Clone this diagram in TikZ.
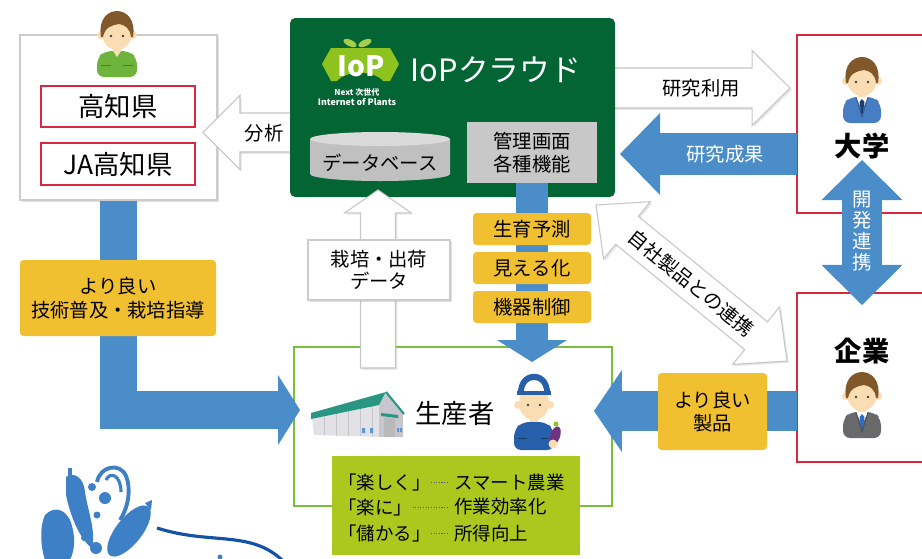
\documentclass[tikz,border=0pt]{standalone}
\usepackage{fontspec}
\setmainfont{Noto Sans CJK JP}
\usetikzlibrary{arrows.meta,fit,shadows}

\definecolor{cloudgreen}{RGB}{4,101,52}
\definecolor{flowblue}{RGB}{74,141,201}
\definecolor{tagyellow}{RGB}{241,192,48}
\definecolor{framered}{RGB}{214,40,62}
\definecolor{farmgreen}{RGB}{122,190,62}
\definecolor{limegreen}{RGB}{172,200,30}
\definecolor{panelgray}{RGB}{200,200,200}
\definecolor{dbgray}{RGB}{192,192,192}
\definecolor{dbtop}{RGB}{218,218,218}
\definecolor{leafgreen}{RGB}{141,194,31}
\definecolor{skin}{RGB}{251,221,180}
\definecolor{hairbrown}{RGB}{128,88,42}
\definecolor{shirtgreen}{RGB}{110,180,60}
\definecolor{suitblue}{RGB}{70,125,195}
\definecolor{suitgray}{RGB}{105,105,108}
\definecolor{navy}{RGB}{30,60,110}
\definecolor{tieblue}{RGB}{40,110,200}
\definecolor{capblue}{RGB}{40,95,170}
\definecolor{eggplant}{RGB}{110,50,130}
\definecolor{roofteal}{RGB}{40,150,130}
\definecolor{barnwall}{RGB}{226,226,230}
\definecolor{barngable}{RGB}{198,198,204}
\definecolor{winblue}{RGB}{90,150,215}
\definecolor{logoblue}{RGB}{62,128,197}
\definecolor{curveblue}{RGB}{20,82,165}

% outlined block arrow between two named points; sizes in px
\newcommand\wideArrow[6]{%
  \pgfpointdiff{\pgfpointanchor{#2}{center}}{\pgfpointanchor{#3}{center}}%
  \pgfgetlastxy\wax\way
  \pgfmathsetmacro\waang{atan2(\way,\wax)}%
  \pgfmathsetmacro\walen{veclen(\wax,\way)/0.569055}%
  \pgfmathsetmacro\wabase{\walen-#6}%
  \begin{scope}[shift={(#2)},rotate=\waang,x=0.02cm,y=0.02cm]
    \filldraw[#1] (0,-#4) -- (\wabase,-#4) -- (\wabase,-#5) -- (\walen,0)
      -- (\wabase,#5) -- (\wabase,#4) -- (0,#4) -- cycle;
  \end{scope}}
% same, with a head at both ends
\newcommand\wideDArrow[6]{%
  \pgfpointdiff{\pgfpointanchor{#2}{center}}{\pgfpointanchor{#3}{center}}%
  \pgfgetlastxy\wax\way
  \pgfmathsetmacro\waang{atan2(\way,\wax)}%
  \pgfmathsetmacro\walen{veclen(\wax,\way)/0.569055}%
  \pgfmathsetmacro\wabase{\walen-#6}%
  \begin{scope}[shift={(#2)},rotate=\waang,x=0.02cm,y=0.02cm]
    \filldraw[#1] (0,0) -- (#6,-#5) -- (#6,-#4) -- (\wabase,-#4) -- (\wabase,-#5)
      -- (\walen,0) -- (\wabase,#5) -- (\wabase,#4) -- (#6,#4) -- (#6,#5) -- cycle;
  \end{scope}}

\tikzset{
  panel/.style={fit={#1}, inner sep=0pt},
  whitebox/.style={draw=gray!40, fill=white, line width=.6pt,
    drop shadow={opacity=.25, shadow xshift=1pt, shadow yshift=-1pt}},
  redbox/.style={draw=framered, line width=.8pt, fill=white},
  yellowtag/.style={fill=tagyellow, rounded corners=2pt},
  warrow/.style={fill=white, draw=gray!45, line width=.6pt,
    drop shadow={opacity=.2, shadow xshift=1pt, shadow yshift=-1pt}},
  bluearrow/.style n args={3}{draw=flowblue, line width=#1,
    -{Triangle[length=#3, width=#2, line width=0pt]}},
  bluedouble/.style n args={3}{draw=flowblue, line width=#1,
    {Triangle[length=#3, width=#2, line width=0pt]}-{Triangle[length=#3, width=#2, line width=0pt]}},
  bigtxt/.style={font=\fontsize{15}{18}\selectfont},
  boldtxt/.style={font=\fontsize{15.5}{18}\selectfont\bfseries},
  midtxt/.style={font=\fontsize{11}{13}\selectfont, align=center},
  smalltxt/.style={font=\fontsize{10.5}{13}\selectfont},
  pics/casual/.style={code={
    \fill[skin] (-4,12) rectangle (4,24);
    \fill[#1, rounded corners=4pt] (-20,46) -- (-20,27) -- (-12,20) -- (12,20) -- (20,27) -- (20,46) -- cycle;
    \fill[skin] (-4,20) -- (0,26) -- (4,20) -- cycle;
    \draw[#1!70!black, line width=.4pt] (-16,34) -- (-6,34) (6,34) -- (16,34);
    \fill[skin] (-16,4) circle (4) (16,4) circle (4);
    \fill[skin] (0,2) ellipse [x radius=15, y radius=17];
    \fill[hairbrown] (-16,6) .. controls (-19,-12) and (-9,-20) .. (0,-20) .. controls (9,-20) and (19,-12) .. (16,6)
      -- (14,6) .. controls (13,-3) and (8,-6) .. (2,-7) .. controls (-5,-6) and (-12,-4) .. (-14,6) -- cycle;
    \fill[black!75] (-6,5) circle (1.4) (6,5) circle (1.4);
  }},
  pics/suited/.style 2 args={code={
    \fill[skin] (-4,12) rectangle (4,24);
    \fill[#1, rounded corners=4pt] (-19,46) -- (-19,27) -- (-12,20) -- (12,20) -- (19,27) -- (19,46) -- cycle;
    \fill[white] (-6,20) -- (0,33) -- (6,20) -- cycle;
    \fill[#2] (0,22) -- (-2.5,25) -- (0,40) -- (2.5,25) -- cycle;
    \draw[#1!70!black, line width=.4pt] (-6,20) -- (0,40) -- (6,20);
    \fill[skin] (-16,4) circle (4) (16,4) circle (4);
    \fill[skin] (0,2) ellipse [x radius=15, y radius=17];
    \fill[hairbrown] (-16,6) .. controls (-19,-12) and (-9,-20) .. (0,-20) .. controls (9,-20) and (19,-12) .. (16,6)
      -- (14,6) .. controls (13,-3) and (8,-6) .. (2,-7) .. controls (-5,-6) and (-12,-4) .. (-14,6) -- cycle;
    \fill[black!75] (-6,5) circle (1.4) (6,5) circle (1.4);
  }},
  pics/farmer/.style={code={
    \fill[skin] (-4,14) rectangle (4,26);
    \fill[capblue, rounded corners=4pt] (-20,50) -- (-20,30) -- (-12,22) -- (12,22) -- (20,30) -- (20,50) -- cycle;
    \draw[capblue!60!black, line width=.4pt] (-16,38) -- (-7,38) (7,38) -- (14,38);
    \fill[skin] (-16,5) circle (4) (16,5) circle (4);
    \fill[skin] (0,3) ellipse [x radius=15, y radius=17];
    \fill[capblue] (-16,-6) .. controls (-17,-33) and (17,-33) .. (16,-6) -- cycle;
    \fill[white] (-10,-8) .. controls (-10,-24) and (10,-24) .. (10,-8) -- cycle;
    \fill[capblue] (-17,-9) rectangle (17,-5);
    \fill[black!75] (-6,5) circle (1.4) (6,5) circle (1.4);
    \fill[eggplant, rotate around={70:(21,36)}] (21,36) ellipse [x radius=10, y radius=5];
    \fill[leafgreen] (22,24) circle (2.5);
    \fill[skin] (19,44) circle (4.5);
  }},
}

\begin{document}
\begin{tikzpicture}[x=0.02cm, y=-0.02cm]
\useasboundingbox (0,0) rectangle (922,558);
\clip (0,0) rectangle (922,558);

%Kochi prefecture / JA box
\node[whitebox, panel={(20,35) (217,200)}] (pref) {};
\node[redbox, panel={(41,86) (195,127)}] (kochi) {};
\node[bigtxt] (kochitext) at (kochi) {高知県};
\node[redbox, panel={(41,143) (195,185)}] (jakochi) {};
\node[bigtxt] (jakochitext) at (jakochi) {JA高知県};
\pic at (117,31) {casual=shirtgreen};

%analysis arrow (tail hidden under the cloud panel)
\coordinate (bunseki-s) at (300,132.5);
\coordinate (bunseki-e) at (203,132.5);
\wideArrow{warrow}{bunseki-s}{bunseki-e}{19.5}{37}{37}
\node[midtxt] (bunseki) at (264,133) {分析};

%research use arrow
\coordinate (riyou-s) at (600,88);
\coordinate (riyou-e) at (790,88);
\wideArrow{warrow}{riyou-s}{riyou-e}{20}{37.5}{38}
\node[midtxt] (riyou) at (701,88) {研究利用};

%IoP cloud panel
\node[fill=cloudgreen, rounded corners=3pt, panel={(290,18) (615,197)}] (cloud) {};

%logo
\fill[leafgreen] (322,64) -- (331,48) -- (390,48) -- (399,64) -- (390,81) -- (383,81)
  .. controls (374,70) and (346,70) .. (337,81) -- (331,81) -- cycle;
\fill[leafgreen!80!white, rotate around={-25:(350,43)}] (350,43) ellipse [x radius=7, y radius=3.2];
\fill[leafgreen!80!white, rotate around={25:(365,43)}] (365,43) ellipse [x radius=7, y radius=3.2];
\node[white, font=\fontsize{16}{16}\selectfont\bfseries] (ioplogo) at (361,66) {IoP};
\node[white, font=\fontsize{4.6}{5}\selectfont\bfseries] (nextgen) at (357,92) {Next 次世代};
\node[white, font=\fontsize{5}{6}\selectfont\bfseries] (iopfull) at (357,102) {Internet of Plants};
\node[white, font=\fontsize{17.5}{20}\selectfont] (cloudname) at (496,70) {IoPクラウド};

%database and management panel
\fill[dbgray] (310,139) -- (310,174) arc[start angle=180, end angle=0, x radius=70, y radius=7] -- (450,139) -- cycle;
\fill[dbtop] (380,139) ellipse [x radius=70, y radius=7];
\node[midtxt] (db) at (380,163) {データベース};
\node[fill=panelgray, panel={(467,122) (597,183)}] (mgmt) {};
\node[midtxt] (mgmttext) at (mgmt) {管理画面\\各種機能};

%university and company
\node[redbox, panel={(797,35) (940,213)}] (univ) {};
\pic at (862,77) {suited={suitblue}{navy}};
\node[boldtxt] (univname) at (862,146) {大学};

\node[redbox, panel={(797,293) (940,462)}] (corp) {};
\node[boldtxt] (corpname) at (862,351) {企業};
\pic at (862,392) {suited={suitgray}{tieblue}};

%producers
\node[draw=farmgreen, line width=1.3pt, panel={(294,347) (612,506)}] (farm) {};

%barn
\fill[barnwall] (312,418) -- (379,405) -- (379,437) -- (314,435) -- cycle;
\foreach \x in {324,336,348,360,372}
  \draw[gray!45, line width=.3pt] (\x,{418-(\x-312)*13/67}) -- (\x,{435+(\x-314)*2/65});
\fill[barngable] (379,405) -- (386,393) -- (403,414) -- (403,437) -- (379,437) -- cycle;
\fill[roofteal] (311,419) -- (311,413) -- (386,392) -- (379,405) -- cycle;
\draw[roofteal, line width=1.2pt] (386,392) -- (404,414);
\fill[roofteal] (381,413) -- (398,415) -- (398,418) -- (381,416) -- cycle;
\fill[gray!55] (384,418) rectangle (395,437);
\fill[winblue] (362,428) rectangle (365,433) (370,428) rectangle (373,433)
  (397,428) rectangle (399,432) (400,428) rectangle (402,432);

\node[bigtxt] (producer) at (455,413) {生産者};
\pic at (534,400) {farmer};

%merit list
\node[fill=limegreen, panel={(332,456) (580,555)}] (merit) {};
\node[smalltxt, anchor=west, inner sep=0pt] (fun) at (338,482) {「楽しく」};
\node[smalltxt, anchor=west, inner sep=0pt] (smart) at (454,482) {スマート農業};
\node[smalltxt, anchor=west, inner sep=0pt] (easy) at (338,507) {「楽に」};
\node[smalltxt, anchor=west, inner sep=0pt] (effic) at (454,507) {作業効率化};
\node[smalltxt, anchor=west, inner sep=0pt] (gain) at (338,533) {「儲かる」};
\node[smalltxt, anchor=west, inner sep=0pt] (income) at (454,533) {所得向上};
\foreach \a/\b in {fun/smart, easy/effic, gain/income}
  \draw[gray!70!black, line width=.4pt, dash pattern=on .6pt off .9pt, shorten >=4pt] (\a.east) -- (\b.west);

%cultivation data arrow
\coordinate (data-s) at (378,368);
\coordinate (data-e) at (378,190);
\wideArrow{warrow}{data-s}{data-e}{17.5}{33.5}{23}
\node[whitebox, panel={(308,240) (450,300)}] (datalabel) {};
\node[midtxt] (datatext) at (datalabel) {栽培・出荷\\データ};

%control arrow with its three tags
\coordinate (ctrl-e) at (532,362);
\draw[bluearrow={18.2pt}{39.8pt}{12.5pt}] (mgmt.south) -- (ctrl-e);
\node[yellowtag, panel={(473,213) (591,245)}] (predict) {};
\node[midtxt] at (predict) {生育予測};
\node[yellowtag, panel={(473,252) (591,284)}] (visual) {};
\node[midtxt] at (visual) {見える化};
\node[yellowtag, panel={(473,291) (591,323)}] (control) {};
\node[midtxt] at (control) {機器制御};

%guidance arrow
\coordinate (guide-e) at (300,410);
\draw[bluearrow={21.6pt}{39.8pt}{12.5pt}, line join=miter] (pref.south) |- (guide-e);
\node[yellowtag, panel={(20,260) (216,336)}] (guidetag) {};
\node[midtxt, font=\fontsize{11}{14}\selectfont] (guidetext) at (guidetag) {より良い\\技術普及・栽培指導};

%research results arrow
\coordinate (seika-s) at (797,154);
\coordinate (seika-e) at (620,154);
\draw[bluearrow={23.9pt}{46.7pt}{22.8pt}] (seika-s) -- (seika-e);
\node[midtxt, white] (seika) at (725,154) {研究成果};

%product arrow
\coordinate (prod-s) at (797,411);
\coordinate (prod-e) at (594,411);
\draw[bluearrow={22.8pt}{46.7pt}{15.9pt}] (prod-s) -- (prod-e);
\node[yellowtag, panel={(658,373) (767,450)}] (prodtag) {};
\node[midtxt] (prodtext) at (prodtag) {より良い\\製品};

%joint development
\coordinate (dev-s) at (862,160);
\coordinate (dev-e) at (862,305);
\draw[bluedouble={23.3pt}{46.1pt}{22.8pt}] (dev-s) -- (dev-e);
\node[white, font=\fontsize{11}{12}\selectfont, align=center] (devlabel) at (862,231) {開\\発\\連\\携};

%link with own products
\coordinate (link-s) at (596,205);
\coordinate (link-e) at (787,361);
\wideDArrow{warrow}{link-s}{link-e}{18}{37}{40}
\node[midtxt, rotate=-39.2] (linklabel) at (691,283) {自社製品との連携};

%vegetable mark
\begin{scope}[fill=logoblue]
\fill (66,477) .. controls (74,471) and (84,478) .. (85,492) .. controls (88,512) and (96,530) .. (92,548)
  .. controls (80,540) and (70,515) .. (66,495) -- cycle;
\fill (68,478) rectangle (72,468);
\fill (92,487) circle (4) (105,498) circle (6) (97,515) circle (3.5) (84,538) circle (3) (96,548) circle (6);
\draw[logoblue, line width=2.2pt] (97,482) .. controls (100,466) and (120,462) .. (126,476)
  .. controls (131,488) and (129,506) .. (120,520);
\draw[logoblue, line width=1.8pt] (106,480) .. controls (110,471) and (121,475) .. (121,492);
\fill[rotate around={51.6:(129,531)}] (129,531) ellipse [x radius=31, y radius=13];
\fill (145,503) -- (152,500) -- (151,510) -- cycle;
\fill (45,515) .. controls (55,505) and (65,510) .. (70,520) .. controls (76,535) and (75,550) .. (70,560)
  -- (45,560) .. controls (40,545) and (40,525) .. (45,515);
\fill (220,557) circle (2.5);
\end{scope}
\draw[curveblue, line width=1.8pt] (157,528) .. controls (210,545) and (250,530) .. (282,560);

\end{tikzpicture}
\end{document}
